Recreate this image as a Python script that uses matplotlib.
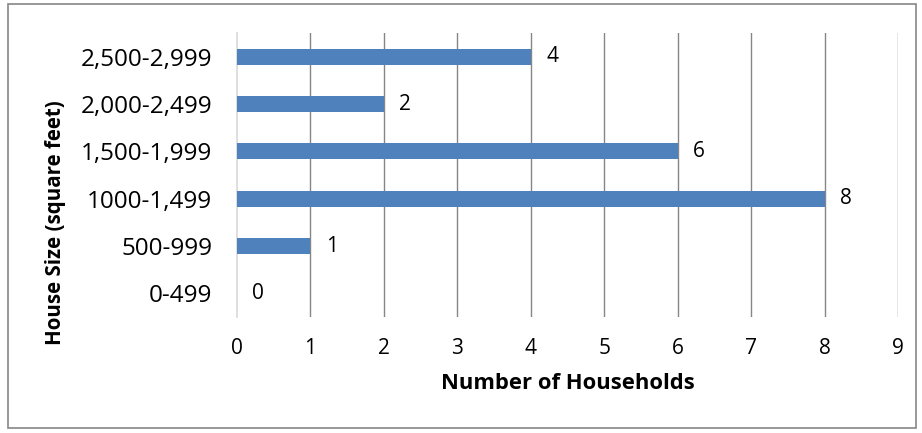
import matplotlib.pyplot as plt
from matplotlib.patches import Rectangle

# house size categories and household counts
sizes = ['0-499', '500-999', '1000-1,499', '1,500-1,999', '2,000-2,499', '2,500-2,999']
households = [0, 1, 8, 6, 2, 4]
x_ticks = list(range(0, 10))

plt.rcParams['font.family'] = ['Open Sans', 'DejaVu Sans']

fig = plt.figure(figsize=(9.22, 4.33), dpi=100)
ax = fig.add_axes([237 / 922, 1 - 317 / 433, (898 - 237) / 922, (317 - 33) / 433])

ypos = list(range(len(sizes)))
ax.barh(ypos, households, height=0.34, color='#4f81bd', zorder=3)
for y, v in zip(ypos, households):
    ax.text(v + 0.21, y, str(v), va='center', ha='left', fontsize=15)

ax.set_xlim(0, 9)
ax.set_ylim(-0.5, len(sizes) - 0.5)
ax.set_xticks(x_ticks)
ax.set_xticklabels([str(t) for t in x_ticks], fontsize=15)
ax.set_yticks(ypos)
ax.set_yticklabels(sizes, fontsize=17.5)
ax.tick_params(axis='both', length=0)
ax.tick_params(axis='x', pad=15)
ax.tick_params(axis='y', pad=18)
ax.grid(axis='x', color='#868686', linewidth=1, zorder=0)
ax.xaxis.get_gridlines()[0].set_visible(False)
for s in ['top', 'right', 'bottom']:
    ax.spines[s].set_visible(False)
ax.spines['left'].set_color('#d9d9d9')
ax.spines['left'].set_linewidth(1.2)

ax.set_xlabel('Number of Households', fontsize=15.8, fontweight='bold', labelpad=10)
ax.set_ylabel('House Size (square feet)', fontsize=14.8, fontweight='bold')
ax.yaxis.set_label_coords(-0.259, 0.331)

fig.patches.append(Rectangle((8 / 922, 1 - 428 / 433), 908 / 922, 424 / 433,
                             transform=fig.transFigure, fill=False,
                             edgecolor='#868686', linewidth=1.2))

fig.savefig('out.png', dpi=100)
